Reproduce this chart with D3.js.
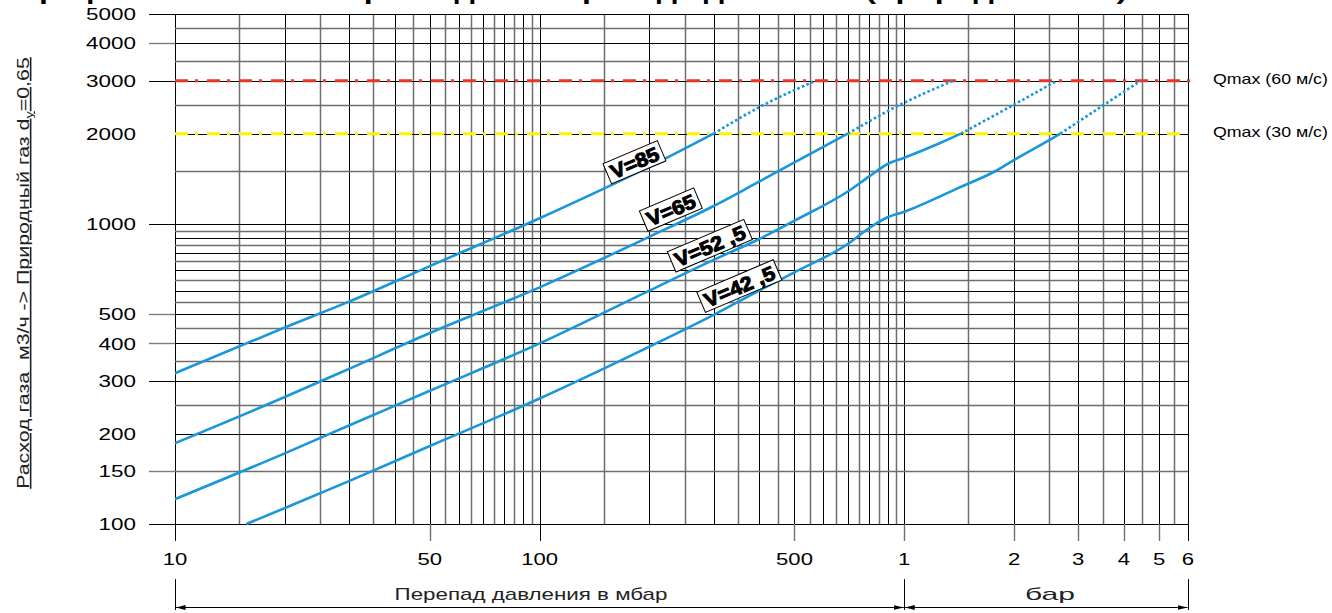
<!DOCTYPE html>
<html>
<head>
<meta charset="utf-8">
<script src="https://cdn.jsdelivr.net/npm/d3@7"></script>
<style>
body{margin:0;background:#fff;}
svg{display:block;font-family:"Liberation Sans",Arial,sans-serif;}
</style>
</head>
<body>
<div class="chart-container"></div>
<script>
// ticks and labels
const xTicks=[10,50,100,500,1000,2000,3000,4000,5000,6000];
const xTickLabels=['10','50','100','500','1','2','3','4','5','6'];
const yTicks=[100,150,200,300,400,500,1000,2000,3000,4000,5000];
const yTickLabels=['100','150','200','300','400','500','1000','2000','3000','4000','5000'];
const yTickStubs=[100,150,300,400,500,1000,3000,4000,5000];
const qmaxValues=[3000,2000];
const qmaxLabels=['Qmax (60 м/с)','Qmax (30 м/с)'];
const qmaxColors=['#e2382b','#fff200'];

// curves: [перепад мбар, расход м3/ч]
const curveNames=['V=85','V=65','V=52 ,5','V=42 ,5'];
const v85Solid=[[10,318],[20,452],[30,551],[50,724],[100,1045],[200,1553],[300,2000]];
const v85Dotted=[[300,2000],[400,2450],[570,3000]];
const v65Solid=[[10,186],[20,265],[30,329],[50,433],[100,615],[200,907],[300,1148],[400,1385],[500,1605],[700,2000]];
const v65Dotted=[[700,2000],[950,2460],[1360,3000]];
const v525Solid=[[10,121],[20,172],[30,213],[50,278],[100,400],[200,600],[300,759],[400,891],[500,1026],[700,1283],[800,1438],[900,1585],[1000,1663],[1250,1858],[1430,2000]];
const v525Dotted=[[1430,2000],[2000,2500],[2620,3000]];
const v425Solid=[[15.7,100],[20,113],[30,139],[50,182],[100,262],[200,390],[300,498],[400,600],[500,690],[700,858],[800,968],[900,1053],[1000,1099],[1400,1315],[1780,1502],[2000,1634],[2500,1905],[2680,2000]];
const v425Dotted=[[2680,2000],[3500,2480],[4450,3000]];
const labelAnchors=[[182,1606],[229,1117],[293,847],[353,621]];

const solids=[v85Solid,v65Solid,v525Solid,v425Solid];
const dotted=[v85Dotted,v65Dotted,v525Dotted,v425Dotted];

const svg_width=1332, svg_height=613;
const svg=d3.select('.chart-container').append('svg')
  .attr('width',svg_width).attr('height',svg_height);

const xScale=d3.scaleLog().domain([10,6000]).range([175,1188]);
const yScale=d3.scaleLog().domain([100,5000]).range([524,14.3]);
const plotLeft=xScale(10), plotRight=xScale(6000), plotTop=yScale(5000), plotBottom=yScale(100);
const arrowY=607;

// stretch text horizontally to a given width
function fitText(sel,x,y,width,extra){
  sel.each(function(){
    const len=this.getComputedTextLength();
    d3.select(this).attr('transform',`translate(${x},${y}) ${extra||''} scale(${width/len},1)`);
  });
}
function stretch(sel,k){
  sel.each(function(){
    const t=d3.select(this);
    t.attr('transform',t.attr('transform')+` scale(${k},1)`);
  });
}
const crisp=v=>Math.round(v)+0.5;

// grid
const xGrid=[...d3.range(10,100,5),...d3.range(100,1000,50),...d3.range(1000,6001,500)];
const yGrid=[...d3.range(100,1000,50),...d3.range(1000,5001,500)];
const gridColor=i=>i%2?'#6e6e6e':'#000';
const gridWidth=i=>i%2?1.5:1;

const grid=svg.append('g').attr('class','grid');
grid.selectAll('.vline').data(xGrid).join('line').attr('class','vline')
  .attr('x1',d=>crisp(xScale(d))).attr('x2',d=>crisp(xScale(d)))
  .attr('y1',plotTop).attr('y2',plotBottom)
  .attr('stroke',(d,i)=>gridColor(i)).attr('stroke-width',(d,i)=>gridWidth(i));
grid.selectAll('.hline').data(yGrid).join('line').attr('class','hline')
  .attr('x1',plotLeft).attr('x2',plotRight)
  .attr('y1',d=>crisp(yScale(d))).attr('y2',d=>crisp(yScale(d)))
  .attr('stroke',(d,i)=>gridColor(i)).attr('stroke-width',(d,i)=>gridWidth(i));

// frame
svg.append('line').attr('x1',149).attr('x2',plotRight).attr('y1',crisp(plotTop)).attr('y2',crisp(plotTop)).attr('stroke','#000');
svg.append('line').attr('x1',plotLeft).attr('x2',plotRight).attr('y1',crisp(plotBottom)).attr('y2',crisp(plotBottom)).attr('stroke','#000');
svg.append('line').attr('x1',crisp(plotRight)).attr('x2',crisp(plotRight)).attr('y1',plotTop).attr('y2',plotBottom).attr('stroke','#000');

// y ticks
const darkStub=d=>[100,300,1000,3000,5000].includes(d);
svg.append('g').selectAll('line').data(yTickStubs).join('line')
  .attr('x1',149).attr('x2',plotLeft)
  .attr('y1',d=>crisp(yScale(d))).attr('y2',d=>crisp(yScale(d)))
  .attr('stroke',d=>darkStub(d)?'#000':'#7d7d7d')
  .attr('stroke-width',d=>darkStub(d)?1:1.4);
svg.append('g').selectAll('text').data(yTicks).join('text')
  .attr('text-anchor','end').attr('dy','0.36em')
  .style('font-size','17px').style('fill','#000')
  .attr('transform',d=>`translate(136,${yScale(d)})`)
  .text((d,i)=>yTickLabels[i])
  .call(stretch,1.32);

// x ticks
const xAxisG=svg.append('g');
const darkTick=i=>i==0||i==2||i==9;
xAxisG.selectAll('line.tick').data(xTicks).join('line').attr('class','tick')
  .attr('x1',d=>crisp(xScale(d))).attr('x2',d=>crisp(xScale(d)))
  .attr('y1',plotBottom).attr('y2',541)
  .attr('stroke',(d,i)=>darkTick(i)?'#000':'#6f6f6f').attr('stroke-width',(d,i)=>darkTick(i)?1:1.4);
xAxisG.selectAll('line.drop').data([10,1000,6000]).join('line').attr('class','drop')
  .attr('x1',d=>crisp(xScale(d))).attr('x2',d=>crisp(xScale(d)))
  .attr('y1',579).attr('y2',arrowY+3)
  .attr('stroke','#000');
xAxisG.selectAll('text').data(xTicks).join('text')
  .attr('text-anchor','middle')
  .style('font-size','17px').style('fill','#000')
  .attr('transform',d=>`translate(${xScale(d)},565)`)
  .text((d,i)=>xTickLabels[i])
  .call(stretch,1.3);

// bottom arrows
const defs=svg.append('defs');
defs.append('marker').attr('id','arr').attr('viewBox','0 0 10 6')
  .attr('refX',10).attr('refY',3).attr('markerWidth',10).attr('markerHeight',6)
  .attr('markerUnits','userSpaceOnUse').attr('orient','auto-start-reverse')
  .append('path').attr('d','M0,0.6L10,3L0,5.4Z').attr('fill','#000');
const spans=[[10,1000],[1000,6000]];
svg.append('g').selectAll('line').data(spans).join('line')
  .attr('x1',d=>xScale(d[0])+0.5).attr('x2',d=>xScale(d[1])-0.5)
  .attr('y1',arrowY+0.5).attr('y2',arrowY+0.5)
  .attr('stroke','#000').attr('stroke-width',1.2)
  .attr('marker-start','url(#arr)').attr('marker-end','url(#arr)');
svg.append('text').style('font-size','17px').attr('text-anchor','middle').style('fill','#222')
  .text('Перепад давления в мбар').call(fitText,531,600,273);
svg.append('text').style('font-size','17px').attr('text-anchor','middle').style('fill','#222')
  .text('бар').call(fitText,1050,600,50);

// Qmax lines
svg.append('g').selectAll('line').data(qmaxValues).join('line')
  .attr('x1',plotLeft).attr('x2',(d,i)=>i==0?plotRight+4:plotRight-7)
  .attr('y1',d=>yScale(d)).attr('y2',d=>yScale(d))
  .attr('stroke',(d,i)=>qmaxColors[i]).attr('stroke-width',3)
  .attr('stroke-dasharray','13,7,3,9');
svg.append('g').selectAll('text').data(qmaxValues).join('text')
  .style('font-size','15px').style('fill','#000')
  .text((d,i)=>qmaxLabels[i])
  .each(function(d){ d3.select(this).call(fitText,1213,yScale(d)+3,115); });

// curves
const line=d3.line().x(d=>xScale(d[0])).y(d=>yScale(d[1])).curve(d3.curveMonotoneX);
const curves=svg.append('g').attr('class','curves');
curves.selectAll('.solid').data(solids).join('path').attr('class','solid')
  .attr('d',line).attr('fill','none').attr('stroke','#1a96da').attr('stroke-width',2.6)
  .attr('stroke-linejoin','round');
curves.selectAll('.dotted').data(dotted).join('path').attr('class','dotted')
  .attr('d',line).attr('fill','none').attr('stroke','#1a96da').attr('stroke-width',2.6)
  .attr('stroke-dasharray','2.6,2.4');

// curve labels
const labels=svg.append('g').selectAll('g').data(labelAnchors).join('g')
  .attr('transform',d=>`translate(${xScale(d[0])},${yScale(d[1])}) rotate(-23)`);
labels.append('rect');
labels.append('text').attr('text-anchor','middle').attr('y',7.5)
  .style('font-size','20px').style('font-weight','bold')
  .style('fill','#000').style('stroke','#000').style('stroke-width',1)
  .text((d,i)=>curveNames[i])
  .attr('transform','scale(1.08,1)');
labels.each(function(){
  const g=d3.select(this);
  const w=g.select('text').node().getComputedTextLength()*1.08+8;
  g.select('rect').attr('x',-w/2).attr('y',-11).attr('width',w).attr('height',22)
    .attr('fill','#fff').attr('stroke','#000').attr('stroke-width',1);
});

// y axis title
const yTitle=svg.append('text').style('font-size','16px').style('fill','#222')
  .attr('text-anchor','middle').style('text-decoration','underline').style('white-space','pre');
yTitle.append('tspan').text('Расход газа  м3/ч -> Природный газ d');
yTitle.append('tspan').text('у').style('font-size','11px').attr('dy',4);
yTitle.append('tspan').text('=0,65').attr('dy',-4);
yTitle.call(fitText,29,273,432,'rotate(-90)');

// title, cut by the top edge
svg.append('text').style('font-size','22px').style('font-weight','bold')
  .text('График зависимости расхода от перепада давления (природный газ)')
  .call(fitText,22,-1.5,1106);
</script>
</body>
</html>
